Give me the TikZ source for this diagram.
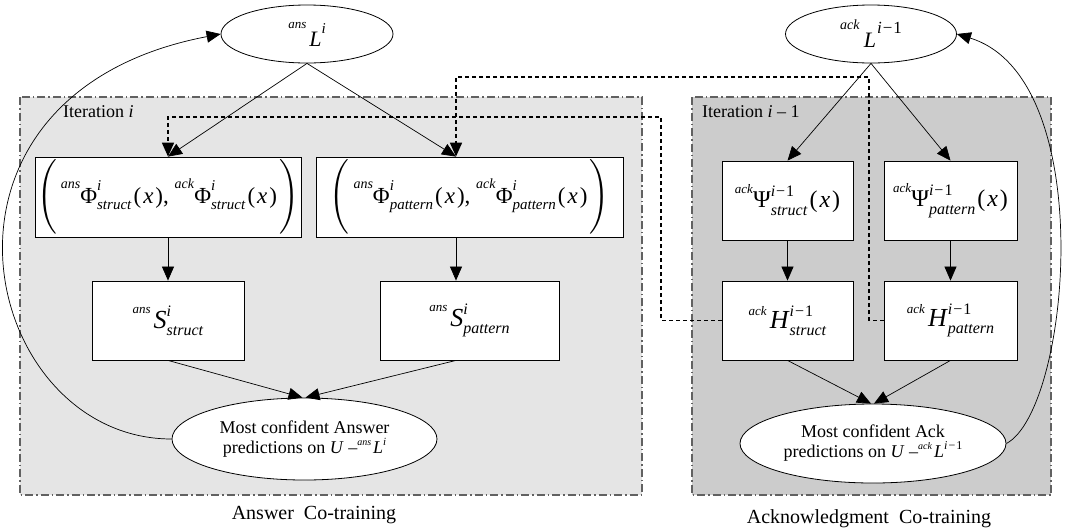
\documentclass[tikz,border=0pt]{standalone}
\usepackage{amsmath}
\usepackage{fontspec}
\setmainfont{Liberation Serif}
\usetikzlibrary{arrows.meta,shapes.geometric}
% prescript: size, raise, text
\newcommand{\pre}[3]{\raisebox{#2pt}{\fontsize{#1}{#1}\selectfont\textit{#3}}}
% super+sub: size, sup raise, sup, sub lower, sub
\newcommand{\spb}[5]{{\fontsize{#1}{#1}\selectfont\rlap{\raisebox{#2pt}{#3}}\raisebox{-#4pt}{\textit{#5}}}}
% super only: size, raise, sup
\newcommand{\spo}[3]{{\fontsize{#1}{#1}\selectfont\raisebox{#2pt}{#3}}}
\newcommand{\imo}{\textit{i}\kern1pt−\kern1pt1}
\newcommand{\px}{\kern2pt(\kern2pt\textit{x}\kern2pt)}
\begin{document}
\begin{tikzpicture}[x=1pt,y=-1pt,
  panel/.style={draw=black!62, line width=1.1pt, dash pattern=on 8pt off 3pt on 1.5pt off 3pt},
  box/.style={draw=black, fill=white, line width=0.8pt, minimum width=#1, minimum height=79pt, inner sep=0pt},
  oval/.style={draw=black, fill=white, ellipse, line width=0.8pt, inner sep=0pt},
  arr/.style={draw=black, line width=0.7pt, -{Triangle[length=14pt,width=12pt]}},
  dotline/.style={draw=black, line width=1.7pt, dash pattern=on 4pt off 3pt, -{Triangle[length=14pt,width=12pt]}},
  lbl/.style={font=\fontsize{18}{21}\selectfont, inner sep=0pt},
  captext/.style={font=\fontsize{20}{24}\selectfont, inner sep=0pt},
  phifont/.style={font=\fontsize{23}{24}\selectfont},
  psifont/.style={font=\fontsize{24}{26}\selectfont},
  shfont/.style={font=\fontsize{26}{28}\selectfont}
]
\useasboundingbox (0,0) rectangle (1092,531);
% panels
\draw[panel, fill=black!10] (20,97) rectangle (642,495);
\draw[panel, fill=black!20] (692,97) rectangle (1051,495);
\node[lbl, anchor=west] (itA) at (63,112) {Iteration \textit{i}};
\node[lbl, anchor=west] (itB) at (702,112) {Iteration \textit{i} – 1};
% bends of the dotted connectors
\coordinate (dA1) at (661,117);
\coordinate (dB1) at (869,77);
% nodes
\node[oval, minimum width=172pt, minimum height=58pt, font=\fontsize{22}{24}\selectfont] (ansL) at (307,34)
  {\pre{13}{18}{ans}\kern3pt\textit{L}\spo{15}{13}{\textit{i}}};
\node[oval, minimum width=171pt, minimum height=58pt, font=\fontsize{22}{24}\selectfont] (ackL) at (871,34)
  {\pre{14}{18}{ack}\kern4pt\textit{L}\kern1pt\spo{17}{14}{\imo}};
\node[box=266pt, minimum height=80pt, phifont] (phiS) at (168,197)
  {$\Biggl($\kern4pt\pre{14}{15}{ans}Φ\spb{15}{13}{\textit{i}}{6}{struct}\px,
   \pre{14}{15}{ack}Φ\spb{15}{13}{\textit{i}}{6}{struct}\px\kern2pt$\Biggr)$};
\node[box=307pt, minimum height=80pt, phifont] (phiP) at (469.5,197)
  {$\Biggl($\kern4pt\pre{14}{15}{ans}Φ\spb{15}{13}{\textit{i}}{6}{pattern}\px,
   \pre{14}{15}{ack}Φ\spb{15}{13}{\textit{i}}{6}{pattern}\px\kern2pt$\Biggr)$};
\node[box=152pt, shfont] (sS) at (168,320.5)
  {\pre{13}{15}{ans}\kern3pt\textit{S}\spb{16}{12}{\textit{i}}{7}{struct}};
\node[box=179pt, shfont] (sP) at (469.5,320.5)
  {\pre{13}{15}{ans}\kern3pt\textit{S}\spb{16}{12}{\textit{i}}{7}{pattern}};
\node[box=131pt, psifont] (psiS) at (787.5,200.5)
  {\pre{13}{14}{ack}Ψ\spb{16}{11}{\imo}{8}{struct}\px};
\node[box=133pt, psifont] (psiP) at (950.5,200.5)
  {\pre{13}{14}{ack}Ψ\spb{16}{11}{\imo}{8}{pattern}\px};
\node[box=131pt, shfont] (hS) at (787.5,320.5)
  {\pre{13}{13}{ack}\kern3pt\textit{H}\spb{16}{12}{\imo}{7}{struct}};
\node[box=133pt, shfont] (hP) at (950.5,320.5)
  {\pre{13}{13}{ack}\kern3pt\textit{H}\spb{16}{12}{\imo}{7}{pattern}};
\node[oval, minimum width=265pt, minimum height=82pt, align=center, font=\fontsize{18}{20}\selectfont] (ansE) at (304.5,439)
  {Most confident Answer\\ predictions on \textit{U} –\pre{10}{8}{ans}\kern2pt\textit{L}\spo{11}{8}{\textit{i}}};
\node[oval, minimum width=266pt, minimum height=79pt, align=center, font=\fontsize{18}{20}\selectfont] (ackE) at (873,443.5)
  {Most confident Ack\\ predictions on \textit{U} –\pre{10}{8}{ack}\kern2pt\textit{L}\spo{12}{8}{\imo}};
% captions
\node[captext] (capA) at (314,515) {Answer\ \ Co-training};
\node[captext] (capB) at (869,519) {Acknowledgment\ \ Co-training};
% dotted connectors
\draw[dotline] (hS.west) -| (dA1) -| (phiS.north);
\draw[dotline] (hP.west) -| (dB1) -| ([xshift=-13.5pt]phiP.north);
% arrows
\draw[arr] (ansL.south) -- (phiS.north);
\draw[arr] (ansL.south) -- ([xshift=-13.5pt]phiP.north);
\draw[arr] (ackL.south) -- (psiS.north);
\draw[arr] (ackL.south) -- (psiP.north);
\draw[arr] (phiS.south) -- (sS.north);
\draw[arr] ([xshift=-13.5pt]phiP.south) -- ([xshift=-13.5pt]sP.north);
\draw[arr] (psiS.south) -- (hS.north);
\draw[arr] (psiP.south) -- (hP.north);
\draw[arr] (sS.south) -- ([xshift=-2pt]ansE.north);
\draw[arr] ([xshift=-13.5pt]sP.south) -- ([xshift=1pt]ansE.north);
\draw[arr] (hS.south) -- ([xshift=-2pt]ackE.north);
\draw[arr] (hP.south) -- ([xshift=1pt]ackE.north);
% feedback curves
\draw[arr] (ansE.west) .. controls +(-192,0) and +(-319,61) .. (ansL.west);
\draw[arr] (ackE.east) .. controls +(64,-34) and +(143,44) .. (ackL.east);
\end{tikzpicture}
\end{document}
